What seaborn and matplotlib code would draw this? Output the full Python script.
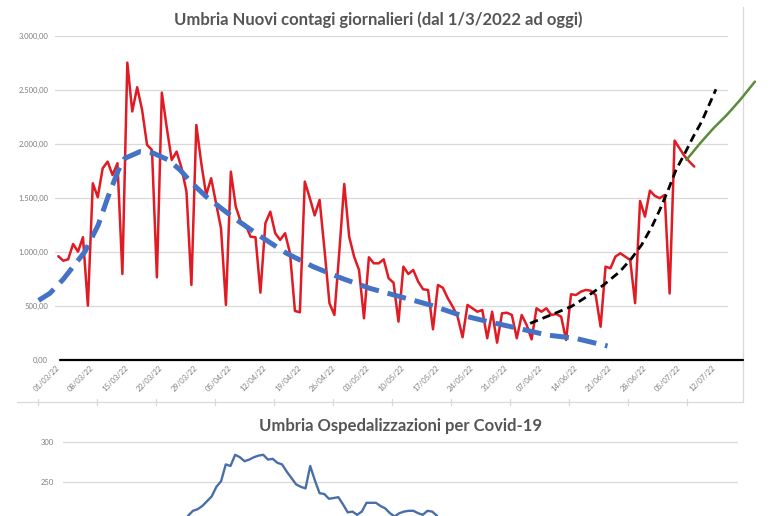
import numpy as np
import pandas as pd
import matplotlib
matplotlib.use('Agg')
import matplotlib.pyplot as plt
import seaborn as sns

# nuovi contagi giornalieri, un valore al giorno dal 01/03/2022
start_date = '2022-03-01'
new_cases = [958, 916, 929, 1071, 1000, 1134, 499, 1634, 1505, 1773,
             1835, 1711, 1820, 793, 2753, 2300, 2525, 2314, 1990, 1943,
             762, 2475, 2150, 1850, 1928, 1775, 1556, 691, 2175, 1820,
             1525, 1681, 1449, 1217, 506, 1742, 1417, 1278, 1248, 1139,
             1133, 620, 1263, 1371, 1171, 1109, 1171, 985, 450, 438,
             1650, 1500, 1336, 1480, 1016, 522, 413, 1000, 1628, 1139,
             954, 830, 382, 948, 892, 892, 929, 753, 712, 351,
             861, 793, 830, 722, 651, 645, 280, 691, 665, 568,
             490, 397, 206, 506, 475, 443, 459, 197, 443, 156,
             428, 434, 413, 197, 413, 320, 187, 475, 443, 475,
             413, 422, 397, 181, 605, 598, 629, 645, 638, 598,
             304, 861, 846, 954, 985, 954, 923, 522, 1470, 1325,
             1566, 1517, 1496, 1526, 612, 2030, 1959, 1888, 1835, 1789]

# linee di tendenza (giorni dal 01/03, valore)
blue_days = [-4, -1.7, 1, 3, 5.4, 8.1, 10.1, 12.2, 13.5, 16.6, 19.3, 22.3, 24.7, 27, 30,
             33.4, 36.2, 41.3, 46.3, 51.7, 57.5, 63.2, 69.3, 75.4, 80.8, 87.2, 93.3,
             99.1, 104.8, 111.4]
blue_vals = [548, 614, 744, 861, 1000, 1248, 1510, 1758, 1866, 1928, 1913, 1851, 1758, 1640, 1510,
             1390, 1294, 1133, 985, 861, 753, 660, 583, 506, 422, 351, 289,
             227, 197, 125]
black_days = [95.7, 100.4, 104, 107.2, 110.6, 113.9, 116.3, 118.3, 120.4, 122, 123.7,
              125.3, 127.1, 128.8, 130.5, 133.4]
black_vals = [335, 422, 490, 583, 691, 815, 939, 1062, 1232, 1387, 1572,
              1758, 1913, 2067, 2206, 2506]
green_days = [127.4, 130.2, 132.9, 135.6, 138.3, 141.3]
green_vals = [1851, 2006, 2145, 2268, 2407, 2577]

# ospedalizzazioni (grafico sotto, tagliato)
hosp = [196, 208, 214, 216, 220, 226, 232, 244, 251, 272, 270, 284, 281, 276, 278,
        281, 283, 284, 278, 279, 274, 272, 263, 255, 247, 244, 242, 270, 252, 236,
        235, 229, 230, 231, 222, 212, 213, 209, 213, 224, 224, 224, 220, 217, 211,
        207, 211, 213, 214, 214, 211, 209, 214, 213, 208, 196]

title1 = 'Umbria Nuovi contagi giornalieri (dal 1/3/2022 ad oggi)'
title2 = 'Umbria Ospedalizzazioni per Covid-19'

sns.set_style('white')
plt.rcParams['font.family'] = ['Lato', 'DejaVu Sans']

W, H = 774, 516
fig = plt.figure(figsize=(W / 100, H / 100), dpi=100, facecolor='white')

def px_box(x0, x1, ytop, ybot):
    return [x0 / W, 1 - ybot / H, (x1 - x0) / W, (ybot - ytop) / H]

grid_c = '#D9D9D9'
txt_c = '#7F7F7F'

# cornice / decorazioni
deco = fig.add_axes([0, 0, 1, 1], zorder=-1)
deco.set_xlim(0, W)
deco.set_ylim(H, 0)
deco.axis('off')
deco.plot([742.7, 742.7], [7, 401.7], color=grid_c, lw=0.9)
deco.plot([17, 743], [401.7, 401.7], color=grid_c, lw=0.9)
for tx in 38.3 + 59 * np.arange(12):
    deco.plot([tx, tx], [399, 404.5], color=grid_c, lw=0.9)

# --- grafico principale ---
ax = fig.add_axes(px_box(55, 728, 36, 359.5))
days = np.arange(len(new_cases))
sns.lineplot(x=days, y=new_cases, ax=ax, color='#E01B24', lw=1.8, zorder=3)

sns.lineplot(x=blue_days, y=blue_vals, ax=ax, color='#4472C4', lw=3.6,
             clip_on=False, zorder=4, sort=False)
ax.lines[-1].set_dashes((3.8, 1.8))
ax.lines[-1].set_dash_capstyle('butt')
sns.lineplot(x=black_days, y=black_vals, ax=ax, color='black', lw=2.0,
             clip_on=False, zorder=5, sort=False)
ax.lines[-1].set_dashes((3, 1.8))
sns.lineplot(x=green_days, y=green_vals, ax=ax, color='#5B8C3A', lw=1.8,
             clip_on=False, zorder=5, sort=False)

ax.set_ylim(0, 3000)
ax.set_xlim(-0.67, 135.84)
yt = np.arange(0, 3001, 500)
ax.set_yticks(yt)
ax.set_yticklabels([f'{v:,.2f}'.replace(',', 'X').replace('.', ',').replace('X', '.') for v in yt])
tick_days = np.arange(0, 134, 7)
tick_lbls = pd.date_range(start_date, periods=len(tick_days), freq='7D').strftime('%d/%m/%y')
ax.set_xticks(tick_days)
ax.set_xticklabels(tick_lbls)
for lbl in ax.get_xticklabels():
    lbl.set_rotation(45)
    lbl.set_ha('right')
    lbl.set_va('center')
    lbl.set_rotation_mode('anchor')
ax.tick_params(axis='both', length=0, labelsize=5.5, labelcolor=txt_c)
ax.tick_params(axis='x', pad=5)
ax.tick_params(axis='y', pad=5)
ax.yaxis.grid(True, color=grid_c, lw=0.9)
ax.set_axisbelow(True)
sns.despine(ax=ax, left=True, bottom=True)
ax.set_xlabel('')
ax.set_ylabel('')
ax.axhline(0, xmin=5 / 673, xmax=(742.7 - 55) / 673, color='black', lw=1.6,
           clip_on=False, zorder=6)

fig.text(378 / W, 1 - 20 / H, title1, ha='center', va='center', fontsize=12,
         fontweight='bold', color='#555555')

# --- secondo grafico (tagliato in basso) ---
ax2 = fig.add_axes(px_box(63, 738, 438, 562))
hx = np.arange(len(hosp))
sns.lineplot(x=hx, y=hosp, ax=ax2, color='#4A6EA9', lw=1.7)
ax2.set_ylim(150, 305)
ax2.set_xlim(-25.7, 118.2)
ax2.set_yticks([250, 300])
ax2.set_xticks([])
ax2.tick_params(axis='y', length=0, labelsize=5.5, labelcolor=txt_c, pad=6.5)
ax2.yaxis.grid(True, color=grid_c, lw=0.9)
ax2.axhline(200, color=grid_c, lw=0.9, zorder=0)
ax2.set_axisbelow(True)
sns.despine(ax=ax2, left=True, bottom=True)
ax2.set_xlabel('')
ax2.set_ylabel('')

fig.text(401 / W, 1 - 426 / H, title2, ha='center', va='center', fontsize=12,
         fontweight='bold', color='#555555')

fig.savefig('out.png', dpi=100, facecolor='white')
